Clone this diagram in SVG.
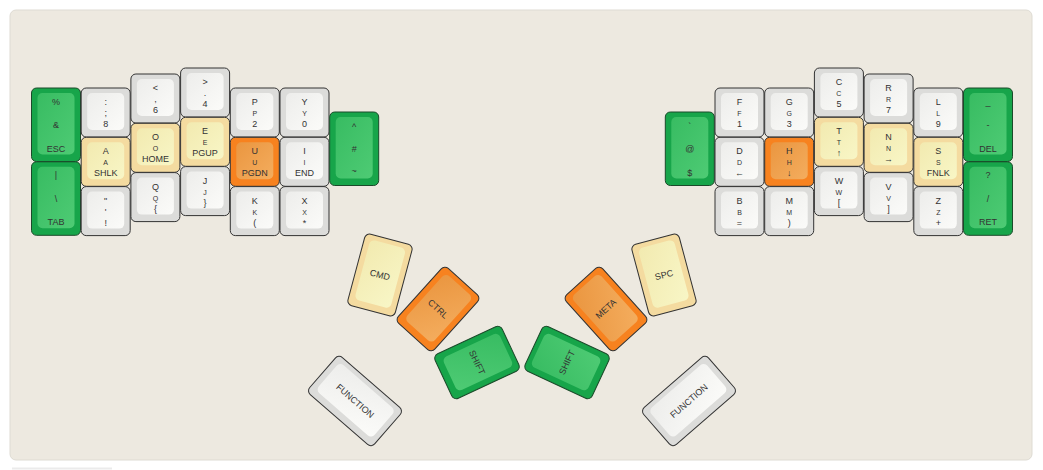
<svg xmlns="http://www.w3.org/2000/svg" width="1043" height="470" viewBox="0 0 1043 470">
<defs>
<linearGradient id="gN" x1="0" y1="0" x2="1" y2="1"><stop offset="0" stop-color="#ededeb"/><stop offset="1" stop-color="#fbfbf9"/></linearGradient>
<linearGradient id="gY" x1="0" y1="0" x2="1" y2="1"><stop offset="0" stop-color="#f2eab0"/><stop offset="1" stop-color="#f8f6c6"/></linearGradient>
<linearGradient id="gR" x1="0" y1="0" x2="1" y2="1"><stop offset="0" stop-color="#ea9640"/><stop offset="1" stop-color="#f4ad5e"/></linearGradient>
<linearGradient id="gG" x1="0" y1="0" x2="1" y2="1"><stop offset="0" stop-color="#38bc62"/><stop offset="1" stop-color="#4ecb74"/></linearGradient>
</defs>
<style>
.o{stroke:#333;stroke-width:1}
.n .o{fill:#dcdcda}.n .i{fill:url(#gN)}
.y .o{fill:#f4dba0}.y .i{fill:url(#gY)}
.r .o{fill:#f7821f}.r .i{fill:url(#gR)}
.g .o{fill:#17a54a;stroke:#1b4a2a}.g .i{fill:url(#gG)}
text{font-family:"Liberation Sans",Arial,sans-serif;font-size:9px;fill:#333;text-anchor:middle}
.s{font-variant:small-caps;font-size:10.5px}
</style>
<rect x="10" y="10" width="1022" height="450" rx="6" fill="#ede9e0" stroke="#dedbd3"/>
<rect x="12" y="467.5" width="100" height="2" fill="#ebebeb"/>

<g id="left-hand">
<g id="k-esc" class="g" transform="translate(31.5,88)"><rect class="o" width="49" height="73.5" rx="5"/><rect class="i" x="6" y="5" width="37" height="61.5" rx="5"/><text x="24.5" y="16.5">%</text><text x="24.5" y="40">&amp;</text><text x="24.5" y="63.5">ESC</text></g>
<g id="k-tab" class="g" transform="translate(31.5,161.8)"><rect class="o" width="49" height="73.5" rx="5"/><rect class="i" x="6" y="5" width="37" height="61.5" rx="5"/><text x="24.5" y="16.5">|</text><text x="24.5" y="40">\</text><text x="24.5" y="63.5">TAB</text></g>

<g id="k-colon" class="n" transform="translate(81.2,88)"><rect class="o" width="49" height="49" rx="5"/><rect class="i" x="6" y="5" width="37" height="37" rx="5"/><text x="24.5" y="17">:</text><text x="24.5" y="28">;</text><text x="24.5" y="39">8</text></g>
<g id="k-a" class="y" transform="translate(81.2,137.3)"><rect class="o" width="49" height="49" rx="5"/><rect class="i" x="6" y="5" width="37" height="37" rx="5"/><text x="24.5" y="17">A</text><text class="s" x="24.5" y="28">a</text><text x="24.5" y="39">SHLK</text></g>
<g id="k-quote" class="n" transform="translate(81.2,186.6)"><rect class="o" width="49" height="49" rx="5"/><rect class="i" x="6" y="5" width="37" height="37" rx="5"/><text x="24.5" y="17">"</text><text x="24.5" y="28">'</text><text x="24.5" y="39">!</text></g>

<g id="k-lt" class="n" transform="translate(130.9,74)"><rect class="o" width="49" height="49" rx="5"/><rect class="i" x="6" y="5" width="37" height="37" rx="5"/><text x="24.5" y="17">&lt;</text><text x="24.5" y="28">,</text><text x="24.5" y="39">6</text></g>
<g id="k-o" class="y" transform="translate(130.9,123.3)"><rect class="o" width="49" height="49" rx="5"/><rect class="i" x="6" y="5" width="37" height="37" rx="5"/><text x="24.5" y="17">O</text><text class="s" x="24.5" y="28">o</text><text x="24.5" y="39">HOME</text></g>
<g id="k-q" class="n" transform="translate(130.9,172.6)"><rect class="o" width="49" height="49" rx="5"/><rect class="i" x="6" y="5" width="37" height="37" rx="5"/><text x="24.5" y="17">Q</text><text class="s" x="24.5" y="28">q</text><text x="24.5" y="39">{</text></g>

<g id="k-gt" class="n" transform="translate(180.6,68)"><rect class="o" width="49" height="49" rx="5"/><rect class="i" x="6" y="5" width="37" height="37" rx="5"/><text x="24.5" y="17">&gt;</text><text x="24.5" y="28">.</text><text x="24.5" y="39">4</text></g>
<g id="k-e" class="y" transform="translate(180.6,117.3)"><rect class="o" width="49" height="49" rx="5"/><rect class="i" x="6" y="5" width="37" height="37" rx="5"/><text x="24.5" y="17">E</text><text class="s" x="24.5" y="28">e</text><text x="24.5" y="39">PGUP</text></g>
<g id="k-j" class="n" transform="translate(180.6,166.6)"><rect class="o" width="49" height="49" rx="5"/><rect class="i" x="6" y="5" width="37" height="37" rx="5"/><text x="24.5" y="17">J</text><text class="s" x="24.5" y="28">j</text><text x="24.5" y="39">}</text></g>

<g id="k-p" class="n" transform="translate(230.3,88)"><rect class="o" width="49" height="49" rx="5"/><rect class="i" x="6" y="5" width="37" height="37" rx="5"/><text x="24.5" y="17">P</text><text class="s" x="24.5" y="28">p</text><text x="24.5" y="39">2</text></g>
<g id="k-u" class="r" transform="translate(230.3,137.3)"><rect class="o" width="49" height="49" rx="5"/><rect class="i" x="6" y="5" width="37" height="37" rx="5"/><text x="24.5" y="17">U</text><text class="s" x="24.5" y="28">u</text><text x="24.5" y="39">PGDN</text></g>
<g id="k-k" class="n" transform="translate(230.3,186.6)"><rect class="o" width="49" height="49" rx="5"/><rect class="i" x="6" y="5" width="37" height="37" rx="5"/><text x="24.5" y="17">K</text><text class="s" x="24.5" y="28">k</text><text x="24.5" y="39">(</text></g>

<g id="k-y" class="n" transform="translate(280,88)"><rect class="o" width="49" height="49" rx="5"/><rect class="i" x="6" y="5" width="37" height="37" rx="5"/><text x="24.5" y="17">Y</text><text class="s" x="24.5" y="28">y</text><text x="24.5" y="39">0</text></g>
<g id="k-i" class="n" transform="translate(280,137.3)"><rect class="o" width="49" height="49" rx="5"/><rect class="i" x="6" y="5" width="37" height="37" rx="5"/><text x="24.5" y="17">I</text><text class="s" x="24.5" y="28">i</text><text x="24.5" y="39">END</text></g>
<g id="k-x" class="n" transform="translate(280,186.6)"><rect class="o" width="49" height="49" rx="5"/><rect class="i" x="6" y="5" width="37" height="37" rx="5"/><text x="24.5" y="17">X</text><text class="s" x="24.5" y="28">x</text><text x="24.5" y="39">*</text></g>

<g id="k-caret" class="g" transform="translate(329.7,112)"><rect class="o" width="49" height="73.5" rx="5"/><rect class="i" x="6" y="5" width="37" height="61.5" rx="5"/><text x="24.5" y="17.5">^</text><text x="24.5" y="40">#</text><text x="24.5" y="62">~</text></g>

<g id="k-cmd" class="y" transform="translate(380,275) rotate(15)"><rect class="o" x="-24.5" y="-37" width="49" height="74" rx="5"/><rect class="i" x="-18.5" y="-32" width="37" height="62" rx="5"/><text x="0" y="3">CMD</text></g>
<g id="k-ctrl" class="r" transform="translate(438,309) rotate(42)"><rect class="o" x="-24.5" y="-37" width="49" height="74" rx="5"/><rect class="i" x="-18.5" y="-32" width="37" height="62" rx="5"/><text x="0" y="3">CTRL</text></g>
<g id="k-lshift" class="g" transform="translate(477,362.5) rotate(65)"><rect class="o" x="-24.5" y="-37" width="49" height="74" rx="5"/><rect class="i" x="-18.5" y="-32" width="37" height="62" rx="5"/><text x="0" y="3">SHIFT</text></g>
<g id="k-lfn" class="n" transform="translate(355,401) rotate(41)"><rect class="o" x="-43" y="-24.5" width="86" height="49" rx="5"/><rect class="i" x="-37" y="-19.5" width="74" height="37" rx="5"/><text x="0" y="3">FUNCTION</text></g>
</g>

<g id="right-hand">
<g id="k-at" class="g" transform="translate(665.3,112)"><rect class="o" width="49" height="73.5" rx="5"/><rect class="i" x="6" y="5" width="37" height="61.5" rx="5"/><text x="24.5" y="17">`</text><text x="24.5" y="40">@</text><text x="24.5" y="63.5">$</text></g>

<g id="k-f" class="n" transform="translate(715,88)"><rect class="o" width="49" height="49" rx="5"/><rect class="i" x="6" y="5" width="37" height="37" rx="5"/><text x="24.5" y="17">F</text><text class="s" x="24.5" y="28">f</text><text x="24.5" y="39">1</text></g>
<g id="k-d" class="n" transform="translate(715,137.3)"><rect class="o" width="49" height="49" rx="5"/><rect class="i" x="6" y="5" width="37" height="37" rx="5"/><text x="24.5" y="17">D</text><text class="s" x="24.5" y="28">d</text><text x="24.5" y="39">←</text></g>
<g id="k-b" class="n" transform="translate(715,186.6)"><rect class="o" width="49" height="49" rx="5"/><rect class="i" x="6" y="5" width="37" height="37" rx="5"/><text x="24.5" y="17">B</text><text class="s" x="24.5" y="28">b</text><text x="24.5" y="39">=</text></g>

<g id="k-g" class="n" transform="translate(764.7,88)"><rect class="o" width="49" height="49" rx="5"/><rect class="i" x="6" y="5" width="37" height="37" rx="5"/><text x="24.5" y="17">G</text><text class="s" x="24.5" y="28">g</text><text x="24.5" y="39">3</text></g>
<g id="k-h" class="r" transform="translate(764.7,137.3)"><rect class="o" width="49" height="49" rx="5"/><rect class="i" x="6" y="5" width="37" height="37" rx="5"/><text x="24.5" y="17">H</text><text class="s" x="24.5" y="28">h</text><text x="24.5" y="39">↓</text></g>
<g id="k-m" class="n" transform="translate(764.7,186.6)"><rect class="o" width="49" height="49" rx="5"/><rect class="i" x="6" y="5" width="37" height="37" rx="5"/><text x="24.5" y="17">M</text><text class="s" x="24.5" y="28">m</text><text x="24.5" y="39">)</text></g>

<g id="k-c" class="n" transform="translate(814.4,68)"><rect class="o" width="49" height="49" rx="5"/><rect class="i" x="6" y="5" width="37" height="37" rx="5"/><text x="24.5" y="17">C</text><text class="s" x="24.5" y="28">c</text><text x="24.5" y="39">5</text></g>
<g id="k-t" class="y" transform="translate(814.4,117.3)"><rect class="o" width="49" height="49" rx="5"/><rect class="i" x="6" y="5" width="37" height="37" rx="5"/><text x="24.5" y="17">T</text><text class="s" x="24.5" y="28">t</text><text x="24.5" y="39">↑</text></g>
<g id="k-w" class="n" transform="translate(814.4,166.6)"><rect class="o" width="49" height="49" rx="5"/><rect class="i" x="6" y="5" width="37" height="37" rx="5"/><text x="24.5" y="17">W</text><text class="s" x="24.5" y="28">w</text><text x="24.5" y="39">[</text></g>

<g id="k-r" class="n" transform="translate(864.1,74)"><rect class="o" width="49" height="49" rx="5"/><rect class="i" x="6" y="5" width="37" height="37" rx="5"/><text x="24.5" y="17">R</text><text class="s" x="24.5" y="28">r</text><text x="24.5" y="39">7</text></g>
<g id="k-n" class="y" transform="translate(864.1,123.3)"><rect class="o" width="49" height="49" rx="5"/><rect class="i" x="6" y="5" width="37" height="37" rx="5"/><text x="24.5" y="17">N</text><text class="s" x="24.5" y="28">n</text><text x="24.5" y="39">→</text></g>
<g id="k-v" class="n" transform="translate(864.1,172.6)"><rect class="o" width="49" height="49" rx="5"/><rect class="i" x="6" y="5" width="37" height="37" rx="5"/><text x="24.5" y="17">V</text><text class="s" x="24.5" y="28">v</text><text x="24.5" y="39">]</text></g>

<g id="k-l" class="n" transform="translate(913.8,88)"><rect class="o" width="49" height="49" rx="5"/><rect class="i" x="6" y="5" width="37" height="37" rx="5"/><text x="24.5" y="17">L</text><text class="s" x="24.5" y="28">l</text><text x="24.5" y="39">9</text></g>
<g id="k-s" class="y" transform="translate(913.8,137.3)"><rect class="o" width="49" height="49" rx="5"/><rect class="i" x="6" y="5" width="37" height="37" rx="5"/><text x="24.5" y="17">S</text><text class="s" x="24.5" y="28">s</text><text x="24.5" y="39">FNLK</text></g>
<g id="k-z" class="n" transform="translate(913.8,186.6)"><rect class="o" width="49" height="49" rx="5"/><rect class="i" x="6" y="5" width="37" height="37" rx="5"/><text x="24.5" y="17">Z</text><text class="s" x="24.5" y="28">z</text><text x="24.5" y="39">+</text></g>

<g id="k-del" class="g" transform="translate(963.5,88)"><rect class="o" width="49" height="73.5" rx="5"/><rect class="i" x="6" y="5" width="37" height="61.5" rx="5"/><text x="24.5" y="16.5">_</text><text x="24.5" y="40">-</text><text x="24.5" y="63.5">DEL</text></g>
<g id="k-ret" class="g" transform="translate(963.5,161.8)"><rect class="o" width="49" height="73.5" rx="5"/><rect class="i" x="6" y="5" width="37" height="61.5" rx="5"/><text x="24.5" y="16.5">?</text><text x="24.5" y="40">/</text><text x="24.5" y="63.5">RET</text></g>

<g id="k-spc" class="y" transform="translate(664,275) rotate(-15)"><rect class="o" x="-24.5" y="-37" width="49" height="74" rx="5"/><rect class="i" x="-18.5" y="-32" width="37" height="62" rx="5"/><text x="0" y="3">SPC</text></g>
<g id="k-meta" class="r" transform="translate(606,309) rotate(-42)"><rect class="o" x="-24.5" y="-37" width="49" height="74" rx="5"/><rect class="i" x="-18.5" y="-32" width="37" height="62" rx="5"/><text x="0" y="3">META</text></g>
<g id="k-rshift" class="g" transform="translate(567,362.5) rotate(-65)"><rect class="o" x="-24.5" y="-37" width="49" height="74" rx="5"/><rect class="i" x="-18.5" y="-32" width="37" height="62" rx="5"/><text x="0" y="3">SHIFT</text></g>
<g id="k-rfn" class="n" transform="translate(689,401) rotate(-41)"><rect class="o" x="-43" y="-24.5" width="86" height="49" rx="5"/><rect class="i" x="-37" y="-19.5" width="74" height="37" rx="5"/><text x="0" y="3">FUNCTION</text></g>
</g>

<g id="connectors"/>
</svg>
